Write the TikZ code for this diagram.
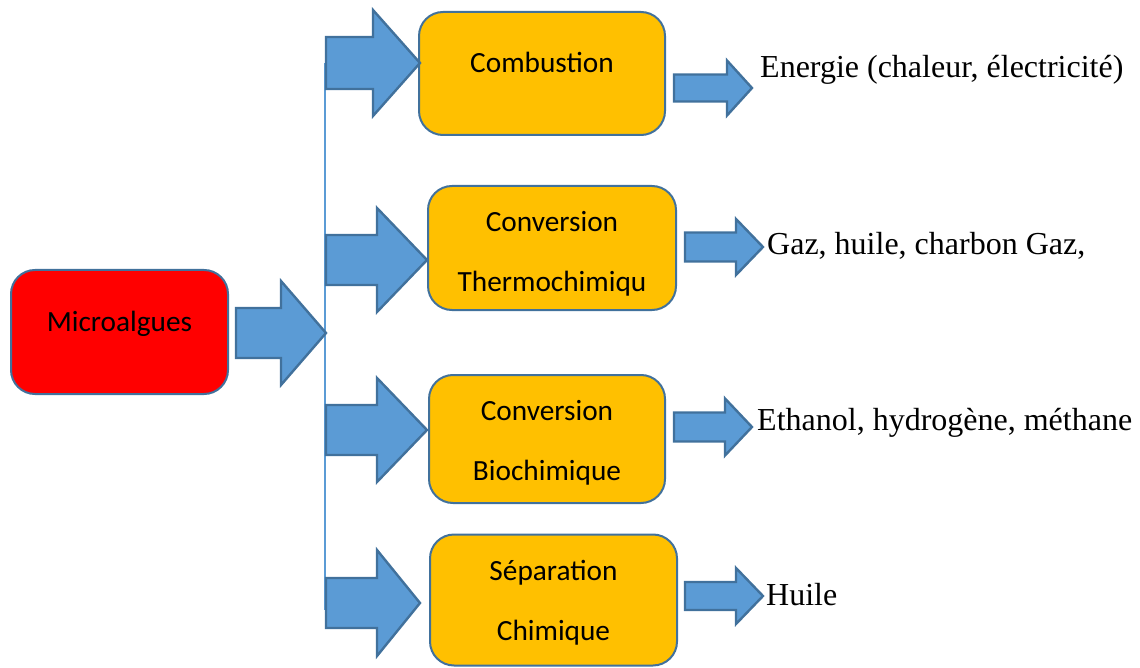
\documentclass[tikz,border=0pt]{standalone}
\usepackage{fontspec}
\setmainfont{Liberation Serif}
\newfontfamily\boxfont{Carlito}
\definecolor{edgeblue}{HTML}{41719C}
\definecolor{fillblue}{HTML}{5B9BD5}
\definecolor{boxorange}{HTML}{FFC000}
\definecolor{boxred}{HTML}{FF0000}
\newcommand\blockarr[6]{%
  \draw[arrowsty] (#1,#4-#5) -- (#2,#4-#5) -- (#2,#4-#6) -- (#3,#4) --
    (#2,#4+#6) -- (#2,#4+#5) -- (#1,#4+#5) -- cycle;}
\newcommand\twolines[2]{\begin{tabular}[t]{@{}c@{}}#1\\#2\end{tabular}}
\begin{document}
\begin{tikzpicture}[x=1pt,y=-1pt,
  arrowsty/.style={draw=edgeblue,fill=fillblue,line width=2.4pt,line join=miter},
  procbox/.style={draw=edgeblue,fill=boxorange,line width=2pt,rounded corners=24pt,inner sep=0pt},
  boxtext/.style={anchor=base,inner sep=0pt,font=\boxfont\fontsize{29.3}{60}\selectfont},
  outtext/.style={anchor=base west,font=\fontsize{32}{36}\selectfont,inner sep=0pt}]
\useasboundingbox (0,0) rectangle (1140,668);
% source
\node[procbox,fill=boxred,minimum width=217pt,minimum height=124pt] (micro) at (119.5,332) {};
\node[boxtext] (micro-t) at (119.5,331) {Microalgues};
% process boxes
\node[procbox,minimum width=246pt,minimum height=123pt] (comb) at (542,73.5) {};
\node[boxtext] (comb-t) at (542,73) {Combustion};
\node[procbox,minimum width=248pt,minimum height=124pt] (thermo) at (552,248) {};
\node[boxtext] (thermo-t) at (552,232) {\twolines{Conversion}{Thermochimiqu}};
\node[procbox,minimum width=236pt,minimum height=128pt] (bio) at (547,439) {};
\node[boxtext] (bio-t) at (547,420) {\twolines{Conversion}{Biochimique}};
\node[procbox,minimum width=247pt,minimum height=131pt] (sep) at (553.5,600) {};
\node[boxtext] (sep-t) at (553.5,580) {\twolines{Séparation}{Chimique}};
% distributor line
\coordinate (ltop) at (325,63);
\coordinate (lbot) at (325,610);
\draw[fillblue,line width=1.5pt] (ltop) -- (lbot);
% block arrows
\blockarr{236}{281}{326}{333}{25}{52}
\blockarr{326}{373}{420}{63}{26}{53}
\blockarr{326}{377}{427}{260}{25}{52}
\blockarr{326}{377}{427}{430}{25}{52}
\blockarr{326}{377}{420}{603}{25}{53}
% output arrows
\blockarr{674}{727}{752}{88}{13.5}{27.5}
\blockarr{685}{736}{763}{247}{14.5}{28}
\blockarr{674}{725}{752}{427}{14.5}{28.5}
\blockarr{685}{736}{763}{596}{14}{28}
% outputs
\node[outtext] (o1) at (760,78) {Energie (chaleur, électricité)};
\node[outtext] (o2) at (767,255) {Gaz, huile, charbon Gaz,};
\node[outtext] (o3) at (757,430) {Ethanol, hydrogène, méthane};
\node[outtext] (o4) at (766,605) {Huile};
\end{tikzpicture}
\end{document}
